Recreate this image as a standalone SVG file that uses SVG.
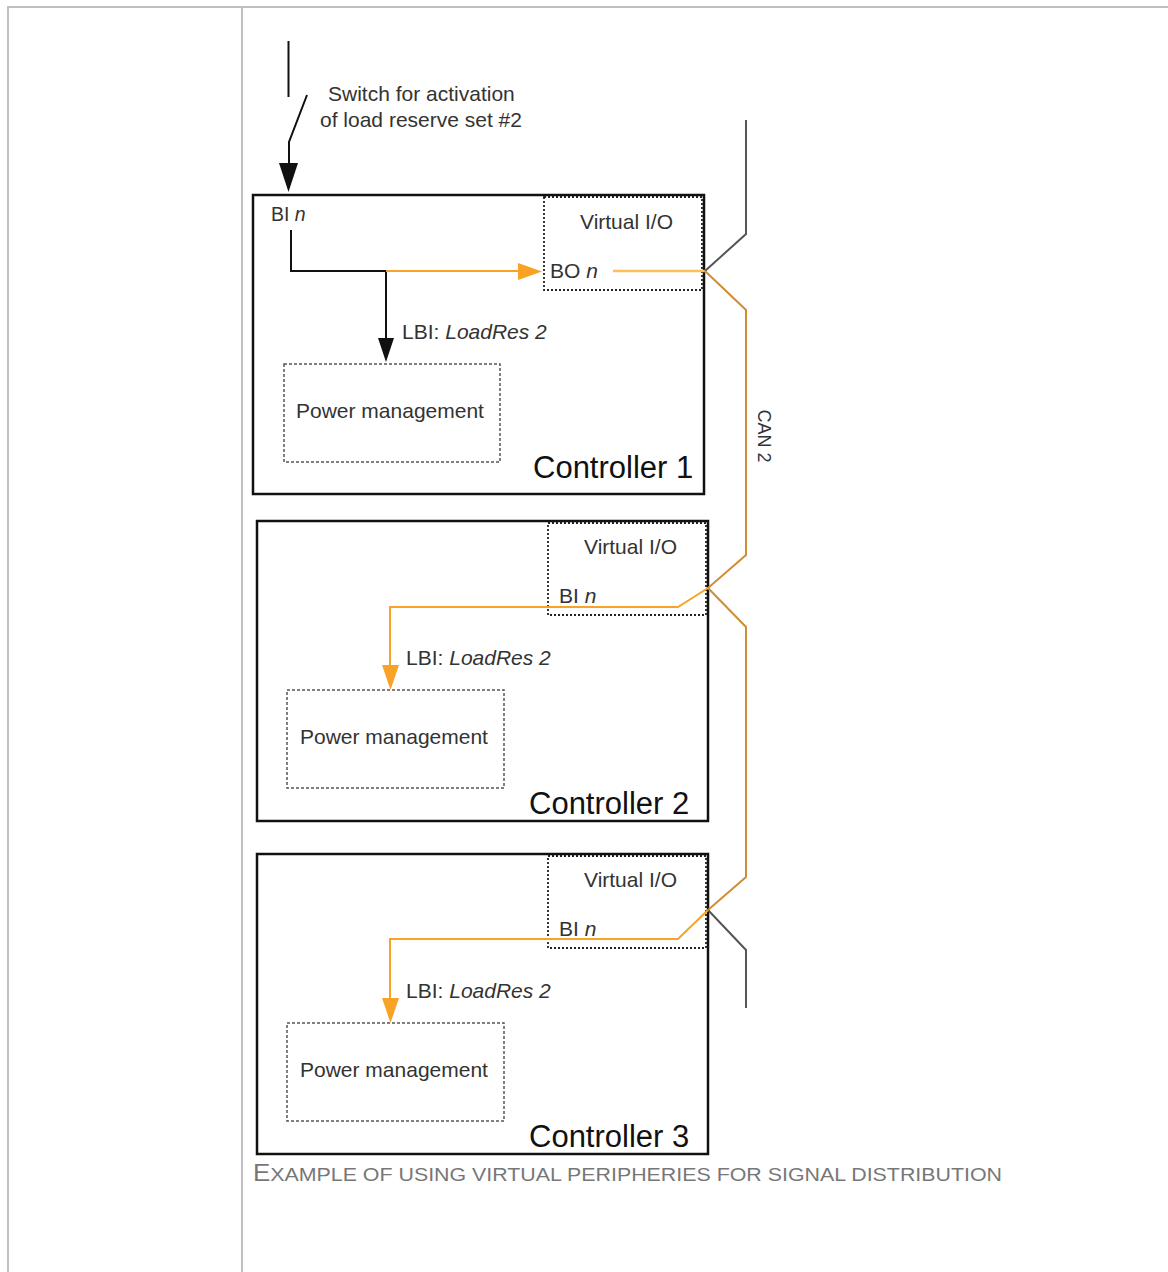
<svg xmlns="http://www.w3.org/2000/svg" width="1168" height="1272" viewBox="0 0 1168 1272">
<style>
text{font-family:"Liberation Sans",Arial,sans-serif;fill:#333}
.frame{stroke:#c0c0c0;stroke-width:2;fill:none}
.ctrl{fill:none;stroke:#111;stroke-width:2.5}
.vio{fill:none;stroke:#222;stroke-width:1.8;stroke-dasharray:2 2}
.pm{fill:none;stroke:#555;stroke-width:1.5;stroke-dasharray:3 2}
.lbl{font-size:21px}
.big{font-size:31px;fill:#111}
.blk{stroke:#111;stroke-width:2;fill:none}
.org{stroke:#f7a325;stroke-width:2;fill:none}
.can{stroke:#cf8d35;stroke-width:2;fill:none}
.gry{stroke:#555;stroke-width:2;fill:none}
</style>
<rect width="1168" height="1272" fill="#fff"/>
<g id="frame">
<line class="frame" x1="8" y1="7" x2="1168" y2="7"/>
<line class="frame" x1="8" y1="6" x2="8" y2="1272"/>
<line class="frame" x1="242" y1="7" x2="242" y2="1272"/>
</g>
<g id="switch-label">
<text class="lbl" x="328" y="101">Switch for activation</text>
<text class="lbl" x="320" y="127">of load reserve set #2</text>
</g>
<g id="controller1">
<rect class="ctrl" x="253" y="195" width="451" height="299"/>
<text class="big" x="533" y="478">Controller 1</text>
<text class="lbl" x="271" y="221" style="font-size:19.5px">BI <tspan font-style="italic">n</tspan></text>
<g id="vio1">
<rect class="vio" x="544" y="197" width="158" height="93"/>
<text class="lbl" x="580" y="229">Virtual I/O</text>
<text class="lbl" x="550" y="278">BO <tspan font-style="italic">n</tspan></text>
</g>
<text class="lbl" x="402" y="339">LBI: <tspan font-style="italic">LoadRes 2</tspan></text>
<g id="pm1">
<rect class="pm" x="284" y="364" width="216" height="98"/>
<text class="lbl" x="296" y="418">Power management</text>
</g>
</g>
<g id="controller2">
<rect class="ctrl" x="257" y="521" width="451" height="300"/>
<text class="big" x="529" y="814">Controller 2</text>
<g id="vio2">
<rect class="vio" x="548" y="523" width="158" height="92"/>
<text class="lbl" x="584" y="554">Virtual I/O</text>
<text class="lbl" x="559" y="603">BI <tspan font-style="italic">n</tspan></text>
</g>
<text class="lbl" x="406" y="665">LBI: <tspan font-style="italic">LoadRes 2</tspan></text>
<g id="pm2">
<rect class="pm" x="287" y="690" width="217" height="98"/>
<text class="lbl" x="300" y="744">Power management</text>
</g>
</g>
<g id="controller3">
<rect class="ctrl" x="257" y="854" width="451" height="300"/>
<text class="big" x="529" y="1147">Controller 3</text>
<g id="vio3">
<rect class="vio" x="548" y="856" width="158" height="92"/>
<text class="lbl" x="584" y="887">Virtual I/O</text>
<text class="lbl" x="559" y="936">BI <tspan font-style="italic">n</tspan></text>
</g>
<text class="lbl" x="406" y="998">LBI: <tspan font-style="italic">LoadRes 2</tspan></text>
<g id="pm3">
<rect class="pm" x="287" y="1023" width="217" height="98"/>
<text class="lbl" x="300" y="1077">Power management</text>
</g>
</g>
<g id="connectors">
<line class="blk" x1="288.5" y1="41" x2="288.5" y2="97" stroke-width="3"/>
<polyline class="blk" points="307,95 289,142 289,165" stroke-width="2.5"/>
<polygon points="279,163 298,163 288.5,192" fill="#111"/>
<polyline class="blk" points="291,230 291,271 386,271"/>
<line class="blk" x1="386" y1="271" x2="386" y2="340"/>
<polygon points="378,338 394,338 386,362" fill="#111"/>
<line class="org" x1="386" y1="271" x2="520" y2="271"/>
<polygon points="518,263 518,280 542,271.5" fill="#f7a325"/>
<line stroke="#ffbe5c" stroke-width="2.5" x1="613" y1="271" x2="705" y2="271"/>
<polyline class="gry" points="746,120 746,234 705,271"/>
<polyline class="can" points="705,271 746,310 746,555 708,588 746,627 746,877 708,910"/>
<polyline class="gry" points="708,910 746,950 746,1008"/>
<polyline class="org" points="708,588 678,607 390,607 390,667"/>
<polygon points="382,665 399,665 390.5,690" fill="#f7a325"/>
<polyline class="org" points="708,910 678,939 390,939 390,1000"/>
<polygon points="382,998 399,998 390.5,1023" fill="#f7a325"/>
<text transform="translate(758,436) rotate(90)" text-anchor="middle" style="font-size:18px">CAN 2</text>
</g>
<text x="253" y="1181" style="fill:#777;font-size:19px" textLength="749" lengthAdjust="spacingAndGlyphs"><tspan style="font-size:23px">E</tspan>XAMPLE OF USING VIRTUAL PERIPHERIES FOR SIGNAL DISTRIBUTION</text>
</svg>
